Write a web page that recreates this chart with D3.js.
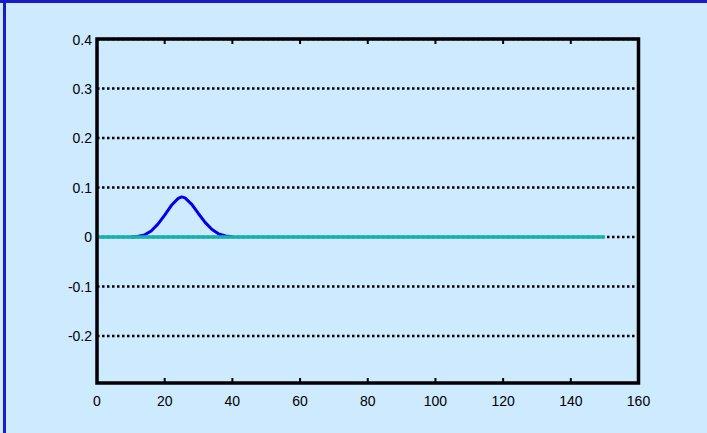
<!DOCTYPE html>
<html>
<head>
<meta charset="utf-8">
<script src="https://cdn.jsdelivr.net/npm/d3@7"></script>
<style>
  body { margin: 0; background: #cdeaff; }
  svg { display: block; }
  text { font-family: "Liberation Sans", Arial, sans-serif; font-size: 14px; fill: #000; }
</style>
</head>
<body>
<svg width="707" height="433"></svg>
<script>
// data
var xTicks = [0, 20, 40, 60, 80, 100, 120, 140, 160];
var yTicks = [-0.2, -0.1, 0, 0.1, 0.2, 0.3, 0.4];

var pulseX = [10, 12, 14, 16, 18, 20, 22, 24, 25, 26, 28, 30, 32, 34, 36, 38, 40];
var pulseY = [0, 0.001, 0.004, 0.012, 0.026, 0.044, 0.064, 0.078, 0.081, 0.079, 0.066, 0.047, 0.029, 0.015, 0.006, 0.002, 0.0005];

var baseX = [0, 150];
var baseY = [0, 0];

var svg = d3.select("svg");

// frame
svg.append("rect").attr("width", 707).attr("height", 433).attr("fill", "#cdeaff");
svg.append("line").attr("x1", 0).attr("x2", 707).attr("y1", 1.5).attr("y2", 1.5)
    .attr("stroke", "#1b1bc8").attr("stroke-width", 3);
svg.append("line").attr("x1", 4.5).attr("x2", 4.5).attr("y1", 0).attr("y2", 433)
    .attr("stroke", "#1b1bc8").attr("stroke-width", 3);

var x = d3.scaleLinear().domain([0, 160]).range([97, 638.5]);
var y = d3.scaleLinear().domain([-0.295, 0.4]).range([383, 39]);

// dotted grid
svg.append("g").selectAll("line").data(yTicks).enter().append("line")
    .attr("x1", x(0)).attr("x2", x(160))
    .attr("y1", function (d) { return y(d); })
    .attr("y2", function (d) { return y(d); })
    .attr("stroke", "#000")
    .attr("stroke-width", 2.5)
    .attr("stroke-dasharray", "2.5,2.5");

// tick marks top and bottom
var tk = svg.append("g");
tk.selectAll("line.b").data(xTicks).enter().append("line")
    .attr("x1", function (d) { return x(d); }).attr("x2", function (d) { return x(d); })
    .attr("y1", y(-0.295)).attr("y2", y(-0.295) - 5)
    .attr("stroke", "#000").attr("stroke-width", 2);
tk.selectAll("line.t").data(xTicks).enter().append("line")
    .attr("x1", function (d) { return x(d); }).attr("x2", function (d) { return x(d); })
    .attr("y1", y(0.4)).attr("y2", y(0.4) + 5)
    .attr("stroke", "#000").attr("stroke-width", 2);

// labels
svg.append("g").selectAll("text").data(xTicks).enter().append("text")
    .attr("x", function (d) { return x(d); })
    .attr("y", 406)
    .attr("text-anchor", "middle")
    .text(function (d) { return d; });
svg.append("g").selectAll("text").data(yTicks).enter().append("text")
    .attr("x", 92)
    .attr("y", function (d) { return y(d) + 5.5; })
    .attr("text-anchor", "end")
    .text(function (d) { return d; });

// series
var line = d3.line()
    .x(function (d) { return x(d[0]); })
    .y(function (d) { return y(d[1]); });

svg.append("path")
    .datum(d3.zip(pulseX, pulseY))
    .attr("d", line)
    .attr("fill", "none")
    .attr("stroke", "#0000ee")
    .attr("stroke-width", 3)
    .attr("stroke-linejoin", "round");

svg.append("path")
    .datum(d3.zip(baseX, baseY))
    .attr("d", line)
    .attr("fill", "none")
    .attr("stroke", "#17b0b0")
    .attr("stroke-width", 3.5);

// axes box
svg.append("rect")
    .attr("x", x(0)).attr("y", y(0.4))
    .attr("width", x(160) - x(0)).attr("height", y(-0.295) - y(0.4))
    .attr("fill", "none")
    .attr("stroke", "#000")
    .attr("stroke-width", 3.5);
</script>
</body>
</html>
